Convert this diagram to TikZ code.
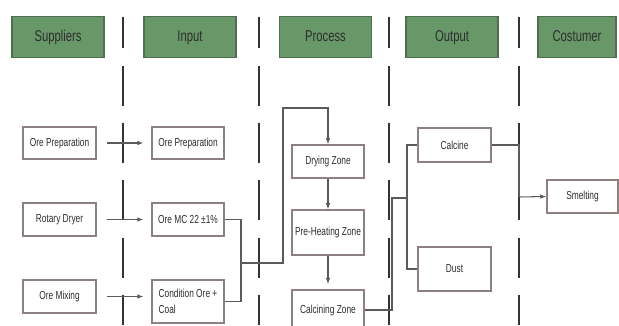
\documentclass[tikz,border=0pt]{standalone}
\usepackage{fontspec}
\setmainfont{Liberation Sans}[FakeStretch=0.72]
\usetikzlibrary{arrows.meta}

\definecolor{headgreen}{RGB}{104,152,104}
\definecolor{headline}{RGB}{80,110,82}
\definecolor{boxline}{RGB}{140,128,128}
\definecolor{textgray}{RGB}{45,45,45}
\definecolor{wiregray}{RGB}{95,90,90}

\begin{document}
\begin{tikzpicture}[x=0.02cm, y=-0.02cm,
    header/.style={draw=headline, fill=headgreen, line width=0.6pt, minimum width=92*0.02cm, minimum height=41*0.02cm, text=textgray, font=\fontsize{8.9}{10}\selectfont, inner sep=0pt, text height=0.72em, text depth=0.2em},
    item/.style={draw=boxline, line width=0.7pt, minimum width=72*0.02cm, minimum height=33*0.02cm, text=textgray, font=\fontsize{6.6}{9.5}\selectfont, inner sep=0pt},
    wire/.style={draw=wiregray, line width=0.6pt},
    flow/.style={wire, -{Latex[length=3.5pt, width=2.6pt]}},
    divider/.style={draw=black!80, line width=1.4pt, dash pattern=on 22.7pt off 9.9pt, dash phase=4.8pt}]
    \clip (0,0) rectangle (619,325);

    % column titles
    \node[header] (suppliers) at (58,37) {Suppliers};
    \node[header] (input) at (190,37) {Input};
    \node[header] (process) at (325.5,37) {Process};
    \node[header] (output) at (452,37) {Output};
    \node[header, minimum width=78*0.02cm] (costumer) at (577,37) {Costumer};

    % dashed separators
    \foreach \x in {123,259,389,519}
        \draw[divider] (\x,17) -- (\x,325);

    % suppliers
    \node[item, minimum width=73*0.02cm, minimum height=32*0.02cm] (sup1) at (59.5,143) {Ore Preparation};
    \node[item, minimum width=73*0.02cm] (sup2) at (59.5,219.5) {Rotary Dryer};
    \node[item, minimum width=73*0.02cm] (sup3) at (59.5,296.5) {Ore Mixing};

    % input
    \node[item, minimum height=32*0.02cm] (in1) at (188,143) {Ore Preparation};
    \node[item] (in2) at (188,219.5) {Ore MC 22 ±1\%};
    \node[item, minimum height=43*0.02cm, align=left] (in3) at (188,301.5) {Condition Ore +\\Coal};

    % process
    \node[item] (dry) at (328,161.5) {Drying Zone};
    \node[item, minimum height=45*0.02cm] (preheat) at (328,232.5) {Pre-Heating Zone};
    \node[item, minimum height=40*0.02cm] (calcining) at (328,310) {Calcining Zone};

    % output
    \node[item, minimum width=73*0.02cm, minimum height=34*0.02cm] (calcine) at (454.5,145) {Calcine};
    \node[item, minimum width=73*0.02cm, minimum height=44*0.02cm] (dust) at (454.5,269) {Dust};

    % costumer
    \node[item, minimum width=71*0.02cm] (smelting) at (582.5,196.5) {Smelting};

    % junction points
    \coordinate (inmerge) at (241,263);
    \coordinate (feedtop) at (283,108);
    \coordinate (calcout) at (392,198);
    \coordinate (outsplit) at (407,198);
    \coordinate (tocust) at (519,197);

    % connectors
    \draw[flow, shorten <=6pt, shorten >=4.5pt] (sup1) -- (in1);
    \draw[flow, shorten <=6pt, shorten >=4.5pt] (sup2) -- (in2);
    \draw[flow, shorten <=6pt, shorten >=4.5pt] (sup3) -- (in3.west |- sup3);
    \draw[wire] (in2.east) -| (inmerge);
    \draw[wire] (in3.east) -| (inmerge);
    \draw[flow] (inmerge) -| (feedtop) -| (dry.north);
    \draw[flow] (dry) -- (preheat);
    \draw[flow, shorten >=3pt] (preheat) -- (calcining);
    \draw[wire] (calcining.east) -| (calcout) -- (outsplit);
    \draw[wire] (outsplit) |- (calcine.west);
    \draw[wire] (outsplit) |- (dust.west);
    \draw[wire] (calcine.east) -| (tocust);
    \draw[flow] (tocust) -- (smelting.west);
\end{tikzpicture}
\end{document}
